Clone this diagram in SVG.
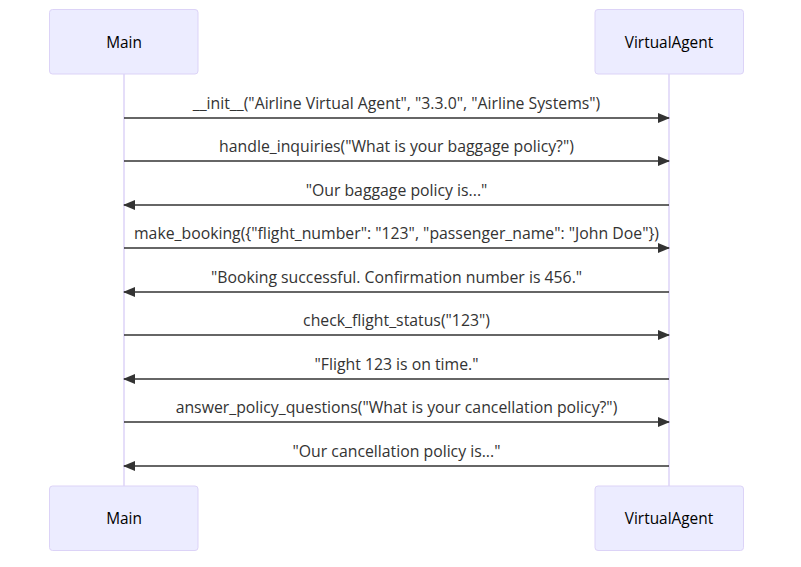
<svg xmlns="http://www.w3.org/2000/svg" width="801" height="567" viewBox="0 0 801 567">
<defs>
<style>
.actor{fill:#ECECFF;stroke:#DCD3F7;stroke-width:1}
.atext{font-family:"Open Sans","Liberation Sans",sans-serif;font-size:15.4px;fill:#000;text-anchor:middle;dominant-baseline:central}
.life{stroke:#DCD3F7;stroke-width:1.5}
.msg{stroke:#333;stroke-width:1.5;fill:none}
.mtext{font-family:"Open Sans","Liberation Sans",sans-serif;font-size:15.8px;fill:#333;text-anchor:middle}
</style>
<marker id="ah" viewBox="0 0 12 10" refX="11" refY="5" markerWidth="12" markerHeight="10" markerUnits="userSpaceOnUse" orient="auto">
<path d="M0,0 L12,5 L0,10 z" fill="#333"/>
</marker>
</defs>
<rect width="801" height="567" fill="#fff"/>
<g id="lifelines">
<line class="life" x1="124" y1="74" x2="124" y2="486"/>
<line class="life" x1="669" y1="74" x2="669" y2="486"/>
</g>
<g id="actor-main-top"><rect class="actor" x="49.5" y="9.5" width="148.5" height="64.5" rx="3"/><text class="atext" x="124" y="42">Main</text></g>
<g id="actor-va-top"><rect class="actor" x="595" y="9.5" width="148.5" height="64.5" rx="3"/><text class="atext" x="669" y="42">VirtualAgent</text></g>
<g id="actor-main-bottom"><rect class="actor" x="49.5" y="486" width="148.5" height="64.5" rx="3"/><text class="atext" x="124" y="518.5">Main</text></g>
<g id="actor-va-bottom"><rect class="actor" x="595" y="486" width="148.5" height="64.5" rx="3"/><text class="atext" x="669" y="518.5">VirtualAgent</text></g>
<g id="messages">
<text class="mtext" x="396.5" y="109">__init__("Airline Virtual Agent", "3.3.0", "Airline Systems")</text>
<line class="msg" x1="124" y1="118" x2="669" y2="118" marker-end="url(#ah)"/>
<text class="mtext" x="396.5" y="152">handle_inquiries("What is your baggage policy?")</text>
<line class="msg" x1="124" y1="161" x2="669" y2="161" marker-end="url(#ah)"/>
<text class="mtext" x="396.5" y="196">"Our baggage policy is..."</text>
<line class="msg" x1="669" y1="205" x2="124" y2="205" marker-end="url(#ah)"/>
<text class="mtext" x="396.5" y="239">make_booking({"flight_number": "123", "passenger_name": "John Doe"})</text>
<line class="msg" x1="124" y1="248" x2="669" y2="248" marker-end="url(#ah)"/>
<text class="mtext" x="396.5" y="283">"Booking successful. Confirmation number is 456."</text>
<line class="msg" x1="669" y1="292" x2="124" y2="292" marker-end="url(#ah)"/>
<text class="mtext" x="396.5" y="326">check_flight_status("123")</text>
<line class="msg" x1="124" y1="335" x2="669" y2="335" marker-end="url(#ah)"/>
<text class="mtext" x="396.5" y="370">"Flight 123 is on time."</text>
<line class="msg" x1="669" y1="379" x2="124" y2="379" marker-end="url(#ah)"/>
<text class="mtext" x="396.5" y="413">answer_policy_questions("What is your cancellation policy?")</text>
<line class="msg" x1="124" y1="422" x2="669" y2="422" marker-end="url(#ah)"/>
<text class="mtext" x="396.5" y="457">"Our cancellation policy is..."</text>
<line class="msg" x1="669" y1="466" x2="124" y2="466" marker-end="url(#ah)"/>
</g>
</svg>
